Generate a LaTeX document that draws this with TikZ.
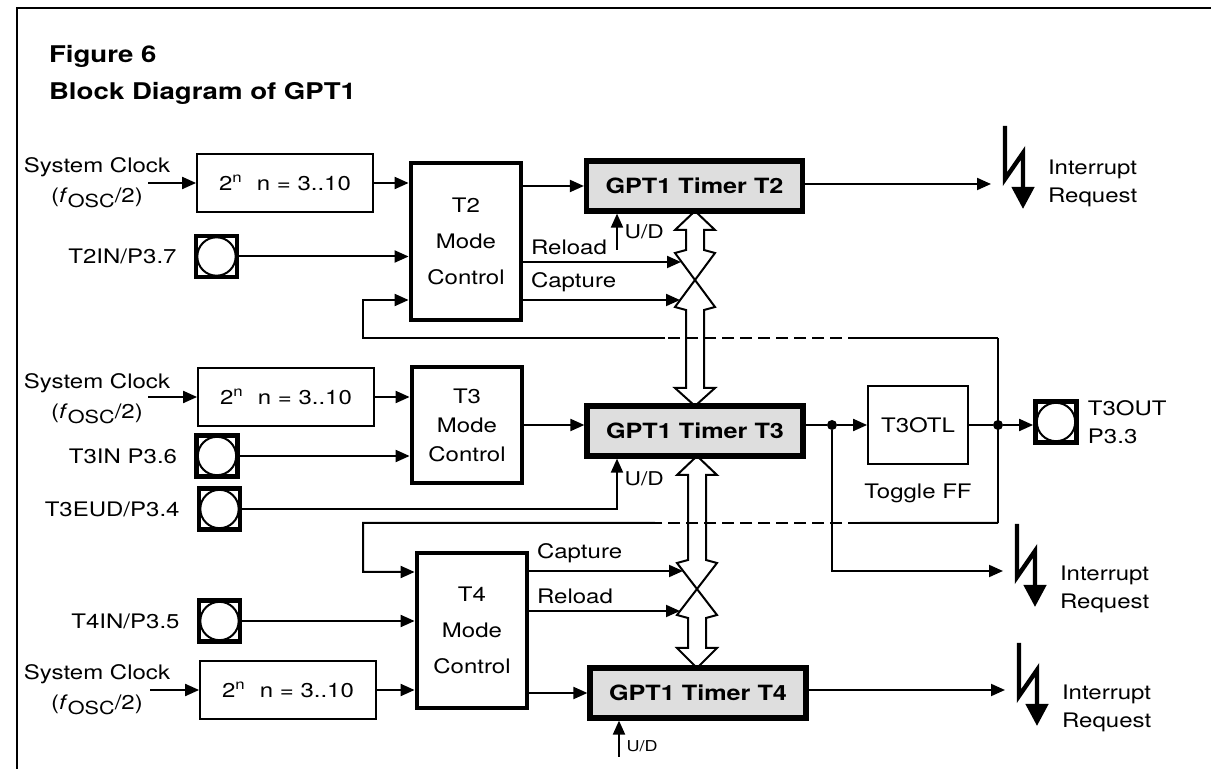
\documentclass[tikz,border=0pt]{standalone}
\usepackage{fontspec}
\setmainfont{TeX Gyre Heros}[FakeStretch=1.2]
\usepackage{tikz}
\usetikzlibrary{arrows.meta,calc,positioning}

\begin{document}
\begin{tikzpicture}[x=0.5pt,y=-0.5pt,
  font=\fontsize{10}{12}\selectfont,
  wire/.style={line width=1pt},
  arr/.style={wire,-{Triangle[length=7pt,width=6pt]}},
  fb/.style={wire,dash pattern=on 6pt off 3pt},
  prebox/.style={draw,line width=0.9pt,minimum width=88pt,minimum height=29pt},
  modebox/.style={draw,line width=2.4pt,minimum width=55pt,align=center,font=\fontsize{10}{18}\selectfont},
  timer/.style={draw,line width=2.6pt,fill=black!13,minimum width=108pt,minimum height=25pt,font=\bfseries\fontsize{10.5}{12}\selectfont},
  pad/.style={draw,line width=2.4pt,minimum size=20.5pt,inner sep=0pt,
    path picture={\draw[line width=1pt] (path picture bounding box.center) circle[radius=9.6pt];}},
  clk/.style={align=center,font=\fontsize{10}{15}\selectfont},
  irq/.style={line width=2.2pt,-{Triangle[length=11pt,width=11pt]}},
  irqtxt/.style={anchor=west,align=left,font=\fontsize{10}{14}\selectfont},
  dot/.style={circle,fill,inner sep=0pt,minimum size=5pt},
  bus/.style={line width=1pt}
]
\useasboundingbox (0,0) rectangle (1211,769);
\draw[line width=1pt] (17,769) -- (17,8) -- (1211,8);

% title
\node[anchor=base west,font=\bfseries\fontsize{11.5}{14}\selectfont] (figno) at (42,63) {Figure 6};
\node[anchor=base west,font=\bfseries\fontsize{11.5}{14}\selectfont] (figname) at (42,100) {Block Diagram of GPT1};

% timer T2
\node[clk] (sc2) at (97,183) {System Clock\\(\textit{f}\raisebox{-0.25em}{\fontsize{9}{9}\selectfont OSC}/2)};
\coordinate (ck2) at (148,183);
\node[prebox] (pre2) at (285,183) {2\textsuperscript{n}\hspace{0.7em}n = 3..10};
\node[modebox,minimum height=78.5pt] (mc2) at (466,241.5) {T2\\Mode\\Control};
\node[timer] (tm2) at (694.5,186) {GPT1 Timer T2};
\node[pad] (pT2) at (216.5,256.5) {};
\node[left=5pt of pT2] (lT2) {T2IN/P3.7};

\draw[arr] (ck2) -- (pre2);
\draw[arr] (pre2.east) -- (pre2.east -| mc2.west);
\draw[arr] (pT2.east) -- (pT2.east -| mc2.west);
\draw[arr] (mc2.east |- tm2.west) -- (tm2.west);
\coordinate (rl2) at (681,262);
\coordinate (cp2) at (680,300);
\draw[arr] (mc2.east |- rl2) node[above right] (tRl2) {Reload} -- (rl2);
\draw[arr] (mc2.east |- cp2) node[above right] (tCp2) {Capture} -- (cp2);
\coordinate (ud2) at (617,250);
\draw[arr] (ud2) -- node[right,font=\fontsize{9.5}{11}\selectfont] (tUd2) {U/D} (ud2 |- tm2.south);

% timer T3
\node[clk] (sc3) at (97,399) {System Clock\\(\textit{f}\raisebox{-0.25em}{\fontsize{9}{9}\selectfont OSC}/2)};
\coordinate (ck3) at (148,397);
\node[prebox] (pre3) at (286,397) {2\textsuperscript{n}\hspace{0.7em}n = 3..10};
\node[modebox,minimum height=58pt,font=\fontsize{10}{14.5}\selectfont] (mc3) at (467,425) {T3\\Mode\\Control};
\node[timer] (tm3) at (695,431) {GPT1 Timer T3};
\node[pad] (pT3) at (217,456) {};
\node[left=5pt of pT3] (lT3) {T3IN P3.6};
\node[pad] (pEUD) at (219.5,509) {};
\node[left=5pt of pEUD] (lEUD) {T3EUD/P3.4};
\node[draw,line width=0.9pt,minimum width=50pt,minimum height=39pt] (ot) at (918,425) {T3OTL};
\node[below=6pt of ot] (tff) {Toggle FF};
\node[pad] (pOUT) at (1056,422) {};
\node[right=1pt of pOUT,align=left,font=\fontsize{10}{14}\selectfont] (lOUT) {T3OUT\\P3.3};
\node[dot] (j1) at (832,425) {};
\node[dot] (j2) at (998,425) {};

\draw[arr] (ck3) -- (pre3);
\draw[arr] (pre3.east) -- (pre3.east -| mc3.west);
\draw[arr] (pT3.east) -- (pT3.east -| mc3.west);
\draw[arr] (mc3.east) -- (mc3.east -| tm3.west);
\draw[wire] (tm3.east |- j1) -- (j1);
\draw[arr] (j1) -- (ot);
\draw[wire] (ot) -- (j2);
\draw[arr] (j2) -- (j2 -| pOUT.west);
\draw[arr] (pEUD.east) -| node[pos=0.8,right,font=\fontsize{9.5}{11}\selectfont] (tUd3) {U/D} ([xshift=-39pt]tm3.south);

% feedback lines from T3OTL
\coordinate (fbA) at (998,338);
\coordinate (fbB) at (363,338);
\coordinate (fbC) at (363,300);
\coordinate (fbD) at (998,523);
\coordinate (fbE) at (363,523);
\coordinate (fbF) at (363,572);
\draw[wire] (fbA) -- (fbD);
\draw[wire] (fbA) -- ($(fbA)!0.217!(fbB)$);
\draw[fb] ($(fbA)!0.217!(fbB)$) -- ($(fbA)!0.524!(fbB)$);
\draw[arr] ($(fbA)!0.524!(fbB)$) -- (fbB) -- (fbC) -- (fbC -| mc2.west);
\draw[wire] (fbD) -- ($(fbD)!0.217!(fbE)$);
\draw[fb] ($(fbD)!0.217!(fbE)$) -- ($(fbD)!0.54!(fbE)$);

% timer T4
\node[modebox,minimum height=77.5pt] (mc4) at (472,630.5) {T4\\Mode\\Control};
\node[timer] (tm4) at (698,693) {GPT1 Timer T4};
\node[pad] (pT4) at (219.5,621) {};
\node[left=5pt of pT4] (lT4) {T4IN/P3.5};
\node[clk] (sc4) at (97,690) {System Clock\\(\textit{f}\raisebox{-0.25em}{\fontsize{9}{9}\selectfont OSC}/2)};
\coordinate (ck4) at (150,690);
\node[prebox] (pre4) at (288,690) {2\textsuperscript{n}\hspace{0.7em}n = 3..10};

\draw[arr] ($(fbD)!0.54!(fbE)$) -- (fbE) -- (fbF) -- (fbF -| mc4.west);
\draw[arr] (ck4) -- (pre4);
\draw[arr] (pre4.east) -- (pre4.east -| mc4.west);
\draw[arr] (pT4.east) -- (pT4.east -| mc4.west);
\draw[arr] (mc4.east |- tm4.west) -- (tm4.west);
\coordinate (cp4) at (683,571);
\coordinate (rl4) at (680,611);
\draw[arr] (mc4.east |- cp4) node[above right] (tCp4) {Capture} -- (cp4);
\draw[arr] (mc4.east |- rl4) node[above right] (tRl4) {Reload} -- (rl4);
\coordinate (ud4) at (619,757);
\draw[arr] (ud4) -- node[right,pos=0.3,font=\fontsize{7.5}{9}\selectfont] (tUd4) {U/D} (ud4 |- tm4.south);

% buses between the timers
\foreach \cx/\ya/\yb/\yc/\yd/\ye/\yf in {695/211/230/250/310/388/406, 697/456/475/560/618/648/668} {
  \draw[bus] (\cx,\ya) -- (\cx-20,\yb) -- (\cx-9,\yb) -- (\cx-9,\yc) -- (\cx-20,\yc+3)
    -- (\cx+20,\yd-3) -- (\cx+9,\yd) -- (\cx+9,\ye) -- (\cx+20,\ye) -- (\cx,\yf)
    -- (\cx-20,\ye) -- (\cx-9,\ye) -- (\cx-9,\yd) -- (\cx-20,\yd-3)
    -- (\cx+20,\yc+3) -- (\cx+9,\yc) -- (\cx+9,\yb) -- (\cx+20,\yb) -- cycle;
}

% interrupt requests
\coordinate (q1) at (991,184);
\coordinate (q2) at (1003,571);
\coordinate (q3) at (1005,690);
\draw[arr] (tm2.east |- q1) -- (q1);
\draw[arr] (j1) |- (q2);
\draw[arr] (tm4.east |- q3) -- (q3);
\foreach \q/\dy/\ty in {q1/-11/-1,q2/0/18,q3/0/18} {
  \draw[irq] ([shift={(14,-47+\dy)}]\q) -- ++(0,53) -- ++(18,-26) -- ++(0,56);
  \node[irqtxt] (t\q) at ([shift={(50,\ty)}]\q) {Interrupt\\Request};
}
\end{tikzpicture}
\end{document}
